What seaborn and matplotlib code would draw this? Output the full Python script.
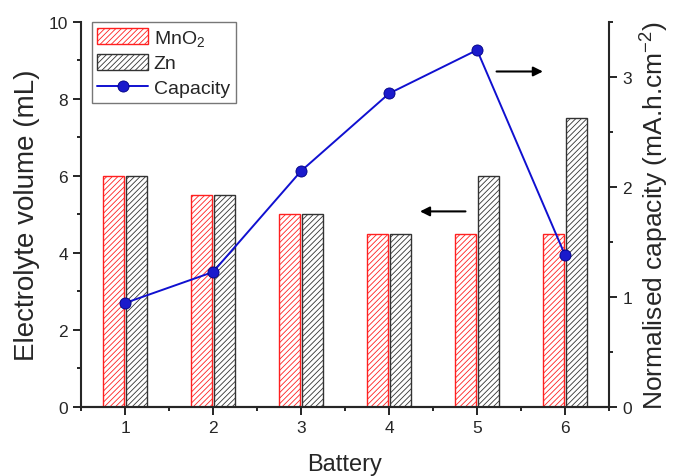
import matplotlib
matplotlib.use("Agg")
import matplotlib.pyplot as plt
from matplotlib.patches import Patch
from matplotlib.lines import Line2D
from matplotlib.ticker import MultipleLocator
import seaborn as sns
import pandas as pd

battery = [1, 2, 3, 4, 5, 6]
mno2_volume = [6.0, 5.5, 5.0, 4.5, 4.5, 4.5]
zn_volume = [6.0, 5.5, 5.0, 4.5, 6.0, 7.5]
capacity = [0.945, 1.227, 2.145, 2.85, 3.245, 1.38]

sns.set_style("ticks")
plt.rcParams['font.family'] = ['Liberation Sans', 'DejaVu Sans']
plt.rcParams['hatch.linewidth'] = 0.6
plt.rcParams['mathtext.fontset'] = 'custom'
plt.rcParams['mathtext.rm'] = 'Liberation Sans'
plt.rcParams['mathtext.it'] = 'Liberation Sans'

df = pd.DataFrame({
    "Battery": battery * 2,
    "Volume": mno2_volume + zn_volume,
    "Electrode": ["MnO2"] * 6 + ["Zn"] * 6,
})
cap_df = pd.DataFrame({"Battery": battery, "Capacity": capacity})

fig = plt.figure(figsize=(6.73, 4.77), dpi=100)
ax = fig.add_axes([0.1204, 0.1447, 0.7846, 0.8071])

red = "#ff2020"
blk = "#333333"
blue = "#1010d0"
sns.barplot(data=df, x="Battery", y="Volume", hue="Electrode", native_scale=True,
            hue_order=["MnO2", "Zn"], palette={"MnO2": red, "Zn": blk},
            width=0.52, gap=0.08, ax=ax, legend=False, err_kws={'linewidth': 0})
for cont, col in zip(ax.containers, [red, blk]):
    for p in cont:
        p.set_facecolor("white")
        p.set_edgecolor(col)
        p.set_hatch("//////")
        p.set_linewidth(1.0)

ax.set_xlim(0.5, 6.5)
ax.set_ylim(0, 10)
ax.xaxis.set_major_locator(MultipleLocator(1))
ax.xaxis.set_minor_locator(MultipleLocator(0.5))
ax.yaxis.set_major_locator(MultipleLocator(2))
ax.yaxis.set_minor_locator(MultipleLocator(1))
ax.set_xlabel("Battery", fontsize=17, labelpad=13)
ax.set_ylabel("Electrolyte volume (mL)", fontsize=20, labelpad=6)

ax2 = ax.twinx()
sns.lineplot(data=cap_df, x="Battery", y="Capacity", ax=ax2, color=blue,
             marker="o", markersize=8, markerfacecolor="#1a1acc",
             markeredgecolor="#000080", markeredgewidth=0.6, linewidth=1.4)
ax2.set_ylim(0, 3.5)
ax2.yaxis.set_major_locator(MultipleLocator(1))
ax2.yaxis.set_minor_locator(MultipleLocator(0.5))
ax2.set_ylabel("Normalised capacity (mA.h.cm$^{-2}$)", fontsize=19, labelpad=5)
ax.set_xlim(0.5, 6.5)

for a in (ax, ax2):
    a.spines["top"].set_visible(False)
    for s in a.spines.values():
        s.set_linewidth(1.5)
    a.tick_params(which="major", direction="out", length=5.5, width=1.2, labelsize=12.5,
                  pad=4, color="black")
    a.tick_params(which="minor", direction="out", length=3, width=1.2, color="black")
ax.spines["right"].set_visible(False)
ax2.spines["left"].set_visible(False)

# arrows
ax2.annotate("", xy=(5.78, 3.05), xytext=(5.19, 3.05),
             arrowprops=dict(arrowstyle="-|>", color="black", lw=1.5, mutation_scale=14))
ax.annotate("", xy=(4.32, 5.08), xytext=(4.9, 5.08),
            arrowprops=dict(arrowstyle="-|>", color="black", lw=1.5, mutation_scale=14))

handles = [
    Patch(facecolor="white", edgecolor=red, hatch="//////", label="MnO$_2$"),
    Patch(facecolor="white", edgecolor=blk, hatch="//////", label="Zn"),
    Line2D([], [], color=blue, marker="o", markersize=8, markerfacecolor="#1a1acc",
           markeredgecolor="#000080", markeredgewidth=0.6, lw=1.4, label="Capacity"),
]
leg = ax2.legend(handles=handles, loc="upper left", bbox_to_anchor=(0.02, 1.0),
                 borderaxespad=0, fontsize=14, frameon=True, fancybox=False,
                 edgecolor="#555555", handlelength=2.6, handleheight=0.9,
                 labelspacing=0.3, handletextpad=0.3, borderpad=0.3)
leg.get_frame().set_linewidth(1.0)

fig.savefig("out.png", dpi=100)
